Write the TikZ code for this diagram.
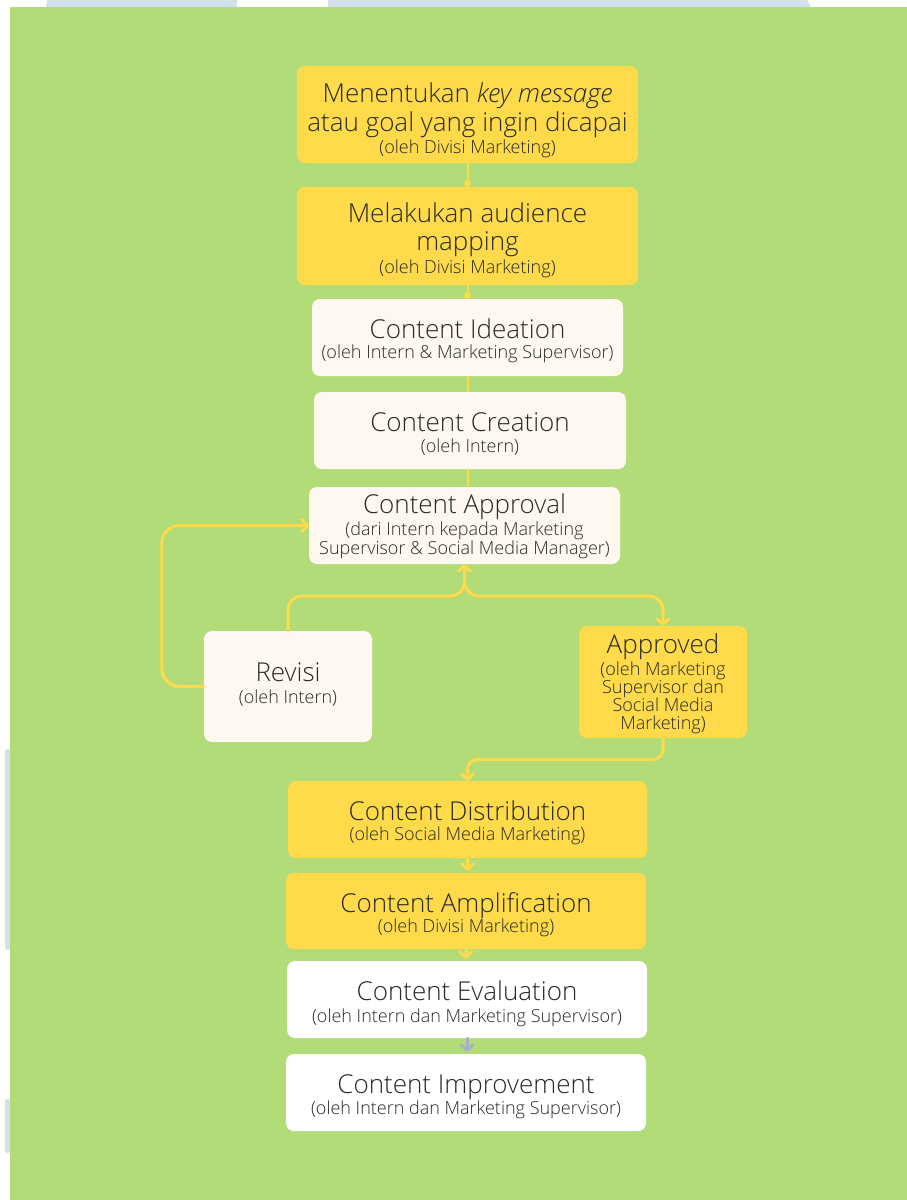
\documentclass[tikz,border=0pt]{standalone}
\usepackage{fontspec}
\setmainfont{Open Sans}[UprightFont=* Light, ItalicFont=* Light Italic]
\usetikzlibrary{arrows.meta,calc}
\definecolor{bggreen}{HTML}{B1DC78}
\definecolor{boxyellow}{HTML}{FFDA4B}
\definecolor{boxcream}{HTML}{FFF8F1}
\definecolor{txt}{HTML}{2A2A2A}
\definecolor{wm}{HTML}{D3E1EE}
\definecolor{arrgray}{HTML}{A5B2C4}
\begin{document}
\begin{tikzpicture}[x=1pt,y=-1pt,
  box/.style={rectangle, rounded corners=8pt, inner sep=0pt, draw=none},
  ybox/.style={box, fill=boxyellow},
  cbox/.style={box, fill=boxcream},
  wbox/.style={box, fill=white},
  ttl/.style={anchor=base, inner sep=0pt, text=txt, font=\fontsize{26}{29}\selectfont},
  sub/.style={anchor=base, inner sep=0pt, text=txt, font=\fontsize{18}{19}\selectfont},
  flow/.style={draw=boxyellow, line width=3pt, line cap=round, line join=round},
  barb/.style={-{Straight Barb[length=5.5pt,width=12pt,line cap=round,line join=round]}},
  thinc/.style={draw=boxyellow, line width=2pt},
]
\useasboundingbox (0,0) rectangle (907,1200);
\fill[white] (0,0) rectangle (907,1200);
% watermark shapes
\fill[wm] (47,0) -- (237,0) -- (237,7) -- (46,7) -- cycle;
\fill[wm] (328,0) -- (807,0) -- (811,7) -- (328,7) -- cycle;
\fill[wm, rounded corners=2pt] (5,749) rectangle (10,950);
\fill[wm, rounded corners=2pt] (5,1099) rectangle (10,1153);
% background
\fill[bggreen] (10,7) rectangle (907,1200);

% boxes
\node[ybox, minimum width=341pt, minimum height=97pt] (b1) at (467.5,114.5) {};
\node[ybox, minimum width=341pt, minimum height=98pt] (b2) at (467.5,236) {};
\node[cbox, minimum width=311pt, minimum height=77pt] (b3) at (467.5,337.5) {};
\node[cbox, minimum width=312pt, minimum height=77pt] (b4) at (470,430.5) {};
\node[cbox, minimum width=311pt, minimum height=77pt] (ca) at (464.5,525.5) {};
\node[cbox, minimum width=168pt, minimum height=111pt] (rev) at (288,686.5) {};
\node[ybox, minimum width=168pt, minimum height=112pt] (appr) at (663,682) {};
\node[ybox, minimum width=359pt, minimum height=77pt] (dist) at (467.5,819.5) {};
\node[ybox, minimum width=360pt, minimum height=76pt] (ampl) at (466,911) {};
\node[wbox, minimum width=360pt, minimum height=77pt] (ev) at (467,999.5) {};
\node[wbox, minimum width=360pt, minimum height=77pt] (im) at (466,1092.5) {};

% connectors
\draw[thinc, -{Circle[length=7pt]}] (b1.south) -- (b2.north);
\draw[thinc, -{Circle[length=7pt]}] (b2.south) -- (b3.north);
\draw[thinc] (b3.south) -- (b3.south |- b4.north);
\draw[thinc] (b4.south -| b3.south) -- (b3.south |- ca.north);
\coordinate (j) at (0,596);
\coordinate (m) at (0,759.5);
\draw[flow, rounded corners=18pt, barb] (rev.west) -- ++(-42,0) |- (ca.west);
\draw[flow, rounded corners=14pt, barb] (rev.north) |- (ca.south |- j) -- (ca.south);
\draw[flow, rounded corners=14pt, barb] ([yshift=-8pt]ca.south) |- (appr.north |- j) -- (appr.north);
\draw[flow, rounded corners=10pt, barb] (appr.south) -- (appr.south |- m) -- (dist.north |- m) -- (dist.north);
\draw[flow, barb] (dist.south) -- ([yshift=2pt]dist.south |- ampl.north);
\draw[flow, barb] (ampl.south) -- ([yshift=2pt]ampl.south |- ev.north);
\draw[flow, draw=arrgray, barb] (ev.south) -- ([yshift=2pt]ev.south |- im.north);

% texts
\node[ttl] (t1a) at (467.5,102) {Menentukan \textit{key message}};
\node[ttl] (t1b) at (467.5,131) {atau goal yang ingin dicapai};
\node[sub] (t1c) at (467.5,153) {(oleh Divisi Marketing)};
\node[ttl] (t2a) at (467.5,222) {Melakukan audience};
\node[ttl] (t2b) at (467.5,250) {mapping};
\node[sub] (t2c) at (467.5,273) {(oleh Divisi Marketing)};
\node[ttl] (t3a) at (467.5,338) {Content Ideation};
\node[sub] (t3b) at (467.5,358) {(oleh Intern \& Marketing Supervisor)};
\node[ttl] (t4a) at (470,431) {Content Creation};
\node[sub] (t4b) at (470,452) {(oleh Intern)};
\node[ttl] (t5a) at (464.5,513) {Content Approval};
\node[sub] (t5b) at (464.5,535) {(dari Intern kepada Marketing};
\node[sub] (t5c) at (464.5,554) {Supervisor \& Social Media Manager)};
\node[ttl] (t6a) at (288,681) {Revisi};
\node[sub] (t6b) at (288,703) {(oleh Intern)};
\node[ttl] (t7a) at (663,653) {Approved};
\node[sub] (t7b) at (663,675) {(oleh Marketing};
\node[sub] (t7c) at (663,693) {Supervisor dan};
\node[sub] (t7d) at (663,711) {Social Media};
\node[sub] (t7e) at (663,729) {Marketing)};
\node[ttl] (t8a) at (467.5,820) {Content Distribution};
\node[sub] (t8b) at (467.5,840) {(oleh Social Media Marketing)};
\node[ttl] (t9a) at (466,912) {Content Amplification};
\node[sub] (t9b) at (466,932) {(oleh Divisi Marketing)};
\node[ttl] (t10a) at (467,1000) {Content Evaluation};
\node[sub] (t10b) at (467,1022) {(oleh Intern dan Marketing Supervisor)};
\node[ttl] (t11a) at (466,1093) {Content Improvement};
\node[sub] (t11b) at (466,1114) {(oleh Intern dan Marketing Supervisor)};
\end{tikzpicture}
\end{document}
